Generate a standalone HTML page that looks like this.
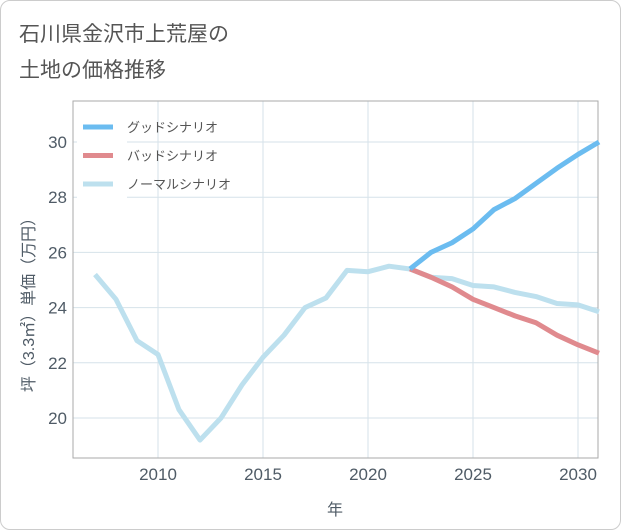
<!DOCTYPE html>
<html><head><meta charset="utf-8"><style>
body{margin:0;background:#fff;font-family:"Liberation Sans","Noto Sans CJK JP",sans-serif;}
#card{position:absolute;left:0;top:0;width:619px;height:528px;border:1px solid #ccc;border-radius:10px;overflow:hidden;}
</style></head><body>
<div id="card">
<svg id="chart" width="621" height="530">
<text x="18" y="40" font-size="21" fill="#555">石川県金沢市上荒屋の</text>
<text x="18" y="76" font-size="21" fill="#555">土地の価格推移</text>
</svg>
</div>
<script>
const years=[2007,2008,2009,2010,2011,2012,2013,2014,2015,2016,2017,2018,2019,2020,2021,2022,2023,2024,2025,2026,2027,2028,2029,2030,2031];
const normal=[25.2,24.3,22.8,22.3,20.3,19.2,20.0,21.2,22.2,23.0,24.0,24.35,25.35,25.3,25.5,25.4,25.1,25.05,24.8,24.75,24.55,24.4,24.15,24.1,23.85];
const futureYears=[2022,2023,2024,2025,2026,2027,2028,2029,2030,2031];
const good=[25.4,26.0,26.35,26.85,27.55,27.95,28.5,29.05,29.55,30.0];
const bad=[25.4,25.1,24.75,24.3,24.0,23.7,23.45,23.0,22.65,22.35];
const xTicks=[2010,2015,2020,2025,2030];
const yTicks=[20,22,24,26,28,30];
const legendLabels=["グッドシナリオ","バッドシナリオ","ノーマルシナリオ"];
const colors=["#6bbcf0","#e08a8e","#bde0ee"];
const L=72,R=597,T=100,B=457;
const x=v=>157+(v-2010)*21;
const y=v=>417-(v-20)*27.6;
const svg=document.getElementById('chart');
const NS="http://www.w3.org/2000/svg";
function mk(tag,at,name){const e=document.createElementNS(NS,tag);for(const k in at)e.setAttribute(k,at[k]);


svg.appendChild(e);return e;}
yTicks.forEach(t=>{mk('line',{x1:L,x2:R,y1:y(t),y2:y(t),stroke:'#d6e2ea'},'y-gridline');
const tx=mk('text',{x:L-6,y:y(t)+6,'text-anchor':'end','font-size':17,fill:'#4f5b66'},'y-tick-label');tx.textContent=t;});
xTicks.forEach(t=>{mk('line',{x1:x(t),x2:x(t),y1:T,y2:B,stroke:'#d6e2ea'},'x-gridline');
const tx=mk('text',{x:x(t),y:B+22,'text-anchor':'middle','font-size':17,fill:'#4f5b66'},'x-tick-label');tx.textContent=t;});
mk('rect',{x:L,y:T,width:R-L,height:B-T,fill:'none',stroke:'#aaa'},'plot-frame');
function line(xs,vs,c,n){mk('polyline',{points:xs.map((v,i)=>x(v)+','+y(vs[i])).join(' '),fill:'none',stroke:c,'stroke-width':5,'stroke-linejoin':'round'},n);}
line(years,normal,colors[2],'normal-line');
line(futureYears,bad,colors[1],'bad-line');
line(futureYears,good,colors[0],'good-line');
mk('rect',{x:76,y:106,width:50,height:95,fill:'#fff'},'legend-bg');
legendLabels.forEach((s,i)=>{const yy=126+i*28.5;
mk('line',{x1:82,x2:112,y1:yy,y2:yy,stroke:colors[i],'stroke-width':5},'legend-swatch');
const tx=mk('text',{x:126,y:yy+5,'font-size':13,fill:'#555'},'legend-label');tx.textContent=s;});
const xl=mk('text',{x:334,y:514,'text-anchor':'middle','font-size':16,fill:'#4f5b66'},'x-axis-title');xl.textContent='年';
const yl=mk('text',{x:0,y:0,'text-anchor':'middle','font-size':16,fill:'#4f5b66',transform:'translate(33,300) rotate(-90)'},'y-axis-title');yl.textContent='坪（3.3㎡）単価（万円）';
</script>
</body></html>
